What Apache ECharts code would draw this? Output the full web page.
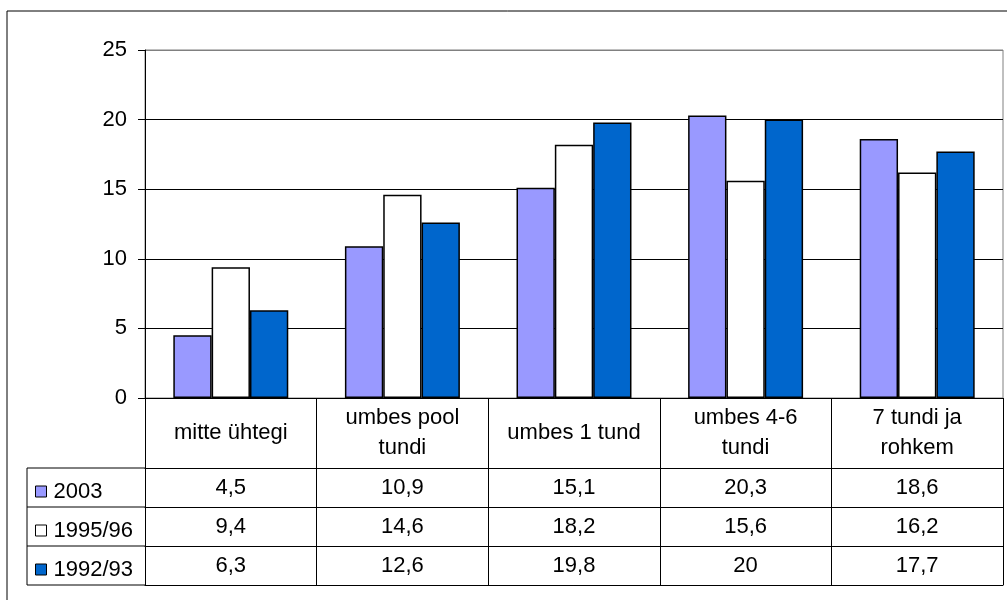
<!DOCTYPE html>
<html>
<head>
<meta charset="utf-8">
<script src="https://cdn.jsdelivr.net/npm/echarts@6/dist/echarts.min.js"></script>
<style>html,body{margin:0;padding:0;background:#fff}#c{width:1007px;height:600px}</style>
</head>
<body>
<div id="c"></div>
<script>
const categories = ['mitte ühtegi', 'umbes pool\ntundi', 'umbes 1 tund', 'umbes 4-6\ntundi', '7 tundi ja\nrohkem'];
const seriesNames = ['2003', '1995/96', '1992/93'];
const s2003 = [4.5, 10.9, 15.1, 20.3, 18.6];
const s1995 = [9.4, 14.6, 18.2, 15.6, 16.2];
const s1992 = [6.3, 12.6, 19.8, 20, 17.7];
const yTicks = [0, 5, 10, 15, 20, 25];

const colors = ['#9999FF', '#FFFFFF', '#0066CC'];
const FONT = "'Liberation Sans', Arial, sans-serif";
const FS = 22;
const W = 1007, H = 600;
const GL = 145, GT = 50, GR = 4, GB = 202;
const baseY = H - GB;
const rowOff = [70, 109, 148, 187];
const legendLeft = 27;

const fmt = v => String(v).replace('.', ',');
const allSeries = [s2003, s1995, s1992];

const chart = echarts.init(document.getElementById('c'), null, {renderer: 'canvas'});

const xAxes = [{
  type: 'category', data: categories, position: 'bottom', gridIndex: 0,
  axisLine: {show: true, lineStyle: {color: '#000', width: 1}},
  axisTick: {show: true, interval: 0, length: rowOff[0], lineStyle: {color: '#000'}},
  axisLabel: {interval: 0, margin: rowOff[0] / 2, verticalAlign: 'middle', color: '#000', fontSize: FS, fontFamily: FONT, lineHeight: 30, align: 'center'}
}];
allSeries.forEach((s, i) => {
  xAxes.push({
    type: 'category', data: s.map(fmt), position: 'bottom', gridIndex: 0, offset: rowOff[i],
    axisLine: {show: true, lineStyle: {color: '#000', width: 1}},
    axisTick: {show: true, interval: 0, length: rowOff[i + 1] - rowOff[i], lineStyle: {color: '#000'}},
    axisLabel: {interval: 0, margin: (rowOff[i + 1] - rowOff[i]) / 2, verticalAlign: 'middle', color: '#000', fontSize: FS, fontFamily: FONT}
  });
});
xAxes.push({
  type: 'category', data: categories, position: 'bottom', gridIndex: 0, offset: rowOff[3],
  axisLine: {show: true, lineStyle: {color: '#000', width: 1}},
  axisTick: {show: false}, axisLabel: {show: false}
});

const legendLines = [];
rowOff.forEach(o => {
  legendLines.push({type: 'line', shape: {x1: legendLeft, y1: baseY + o, x2: GL, y2: baseY + o}, style: {stroke: '#000', lineWidth: 1}, silent: true});
});
legendLines.push({type: 'line', shape: {x1: legendLeft, y1: baseY + rowOff[0], x2: legendLeft, y2: baseY + rowOff[3]}, style: {stroke: '#000', lineWidth: 1}, silent: true});

chart.setOption({
  animation: false,
  backgroundColor: '#fff',
  textStyle: {fontFamily: FONT},
  grid: {left: GL, top: GT, right: GR, bottom: GB, show: true, borderColor: '#808080', borderWidth: 1},
  legend: {
    data: seriesNames, orient: 'vertical', left: 30, top: baseY + rowOff[0] + 7,
    itemWidth: 11, itemHeight: 11, itemGap: 16, icon: 'rect',
    itemStyle: {borderColor: '#000', borderWidth: 1},
    textStyle: {fontSize: FS, color: '#000', fontFamily: FONT, lineHeight: 23, padding: [0, 0, 0, 2]}
  },
  xAxis: xAxes,
  yAxis: {
    type: 'value', min: 0, max: 25, interval: 5,
    axisLine: {show: true, lineStyle: {color: '#000'}},
    axisTick: {show: true, length: 7, lineStyle: {color: '#000'}},
    axisLabel: {color: '#000', fontSize: FS, fontFamily: FONT, margin: 18, formatter: v => yTicks.includes(v) ? String(v) : ''},
    splitLine: {show: true, lineStyle: {color: ['#000', '#000', '#000', '#000', '#000', '#808080'], width: 1}}
  },
  series: allSeries.map((s, i) => ({
    name: seriesNames[i], type: 'bar', data: s, xAxisIndex: 0,
    barGap: '0%', barCategoryGap: '33%',
    itemStyle: {color: colors[i], borderColor: '#000', borderWidth: 1.5}
  })),
  graphic: [
    {type: 'rect', shape: {x: 7, y: 11, width: W, height: H}, style: {fill: 'none', stroke: '#000', lineWidth: 1}, silent: true, z: 100}
  ].concat(legendLines)
});
</script>
</body>
</html>
